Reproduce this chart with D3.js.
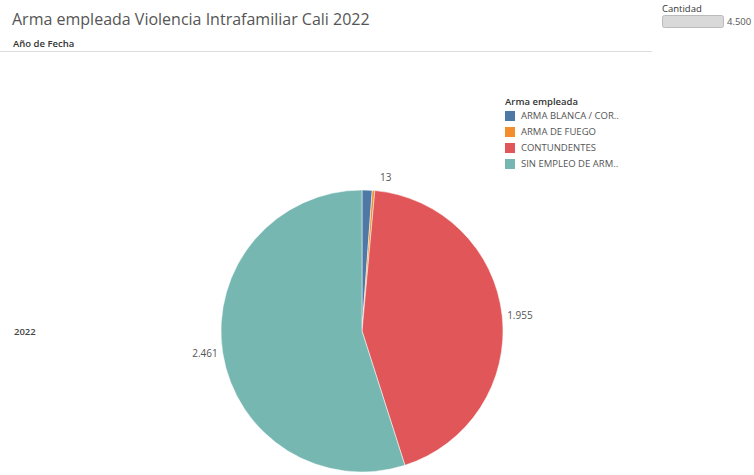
<!DOCTYPE html>
<html>
<head>
<meta charset="utf-8">
<script src="https://cdn.jsdelivr.net/npm/d3@7"></script>
<style>
  body { margin: 0; background: #fff; font-family: "Open Sans", sans-serif; }
</style>
</head>
<body>
<div id="chart"></div>
<script>
var width = 754, height = 475;

// Data
var categories = ["ARMA BLANCA / COR..", "ARMA DE FUEGO", "CONTUNDENTES", "SIN EMPLEO DE ARM.."];
var values = [52, 13, 1955, 2461];
var showLabel = [false, true, true, true];
var colors = ["#4e79a7", "#f28e2b", "#e15759", "#76b7b2"];
var year = "2022";

var data = categories.map(function(c, i) {
  return {cat: c, value: values[i], label: showLabel[i]};
});

var fmt = d3.formatLocale({decimal: ",", thousands: ".", grouping: [3], currency: ["$", ""]}).format(",d");

var svg = d3.select("#chart")
  .append("svg")
  .attr("width", width)
  .attr("height", height);

// Title
svg.append("text")
  .attr("x", 12)
  .attr("y", 25)
  .attr("font-size", 16)
  .attr("fill", "#555")
  .text("Arma empleada Violencia Intrafamiliar Cali 2022");

svg.append("text")
  .attr("x", 13)
  .attr("y", 47)
  .attr("font-size", 9.5)
  .attr("font-weight", 600)
  .attr("fill", "#333")
  .text("Año de Fecha");

svg.append("line")
  .attr("x1", 0).attr("x2", 652)
  .attr("y1", 51.5).attr("y2", 51.5)
  .attr("stroke", "#ddd");

svg.append("text")
  .attr("x", 14)
  .attr("y", 335)
  .attr("font-size", 9.5)
  .attr("font-weight", 600)
  .attr("fill", "#444")
  .text(year);

// Pie
var cx = 362, cy = 331, r = 141;
var color = d3.scaleOrdinal().domain(categories).range(colors);
var pie = d3.pie().sort(null).value(function(d) { return d.value; });
var arc = d3.arc().innerRadius(0).outerRadius(r);
var arcs = pie(data);

var g = svg.append("g").attr("transform", "translate(" + cx + "," + cy + ")");

g.selectAll("path")
  .data(arcs)
  .enter().append("path")
  .attr("d", arc)
  .attr("fill", function(d) { return color(d.data.cat); })
  .attr("stroke", "#fff")
  .attr("stroke-width", 0.5);

g.selectAll("text.lbl")
  .data(arcs.filter(function(d) { return d.data.label; }))
  .enter().append("text")
  .attr("class", "lbl")
  .attr("font-size", 10)
  .attr("fill", "#555")
  .attr("dy", "0.35em")
  .each(function(d) {
    var a = (d.startAngle + d.endAngle) / 2;
    var x = Math.sin(a) * (r + 5), y = -Math.cos(a) * (r + 5);
    if (d.endAngle - d.startAngle < 0.05) { y -= 8; x += 6; }
    d3.select(this)
      .attr("x", x)
      .attr("y", y)
      .attr("text-anchor", Math.sin(a) >= 0 ? "start" : "end");
  })
  .text(function(d) { return fmt(d.data.value); });

// Legend
var legend = svg.append("g").attr("transform", "translate(505,0)");
legend.append("text")
  .attr("x", 0).attr("y", 105)
  .attr("font-size", 9.5)
  .attr("font-weight", 600)
  .attr("fill", "#333")
  .text("Arma empleada");

var items = legend.selectAll("g.item")
  .data(categories)
  .enter().append("g")
  .attr("class", "item")
  .attr("transform", function(d, i) { return "translate(0," + (111 + i * 16) + ")"; });

items.append("rect")
  .attr("width", 10).attr("height", 10)
  .attr("fill", function(d) { return color(d); });

items.append("text")
  .attr("x", 16).attr("y", 5)
  .attr("dy", "0.35em")
  .attr("font-size", 9.5)
  .attr("fill", "#555")
  .text(function(d) { return d; });

// Size legend
svg.append("text")
  .attr("x", 662).attr("y", 12)
  .attr("font-size", 9.5)
  .attr("fill", "#333")
  .text("Cantidad");

svg.append("rect")
  .attr("x", 662.5).attr("y", 15.5)
  .attr("width", 61).attr("height", 12)
  .attr("rx", 2)
  .attr("fill", "#d9d9d9")
  .attr("stroke", "#bbb");

svg.append("text")
  .attr("x", 727).attr("y", 25)
  .attr("font-size", 9.5)
  .attr("fill", "#555")
  .text(fmt(4500));
</script>
</body>
</html>
